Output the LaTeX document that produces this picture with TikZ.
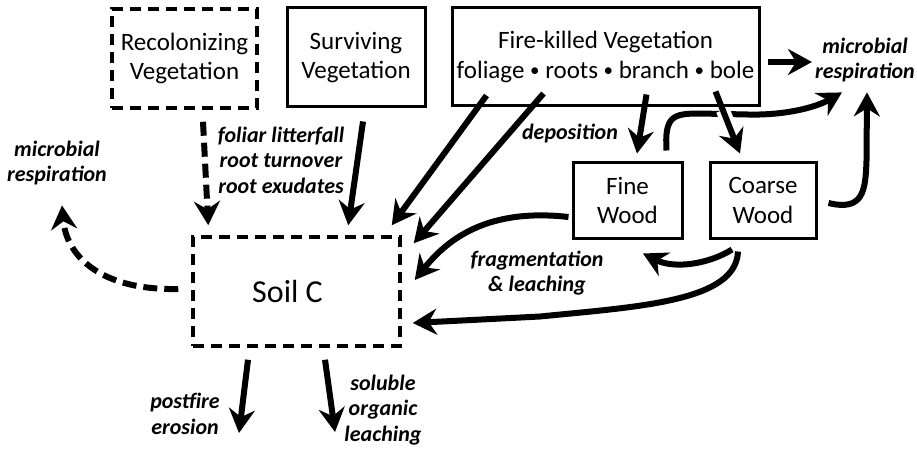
\documentclass[tikz,border=0pt]{standalone}
\usepackage{fontspec}
\setmainfont{Carlito}
\usetikzlibrary{arrows.meta,calc}
\newcommand\smallbul{\raisebox{1.5pt}{\fontsize{19}{19}\selectfont •}}
\begin{document}
\begin{tikzpicture}[x=1pt,y=-1pt,
  box/.style={draw, line width=3pt, inner sep=0pt, align=center, font=\fontsize{25}{29.5}\selectfont},
  dbox/.style={box, dash pattern=on 11pt off 7pt, line width=3.5pt},
  lbl/.style={inner sep=0pt, align=center, font=\fontsize{22}{25.5}\selectfont\bfseries\itshape},
  flow/.style={line width=6pt, -{Stealth[length=24pt,width=26pt,inset=8pt]}},
  dflow/.style={flow, dash pattern=on 14pt off 7pt},
]
\useasboundingbox[fill=white] (0,0) rectangle (917,449);
% boxes
\node[dbox, minimum width=145pt, minimum height=99pt] (rec) at (184.5,58.5) {Recolonizing\\Vegetation};
\node[box, minimum width=138pt, minimum height=99pt] (surv) at (356,57.5) {Surviving\\Vegetation};
\node[box, minimum width=307pt, minimum height=98pt] (fire) at (605.5,57) {Fire-killed Vegetation\\foliage \smallbul{} roots \smallbul{} branch \smallbul{} bole};
\node[box, minimum width=109pt, minimum height=75pt] (fine) at (627.5,200.5) {Fine\\Wood};
\node[box, minimum width=106pt, minimum height=75pt] (coarse) at (763,200.5) {Coarse\\Wood};
\node[dbox, minimum width=207pt, minimum height=109pt, font=\fontsize{32}{38}\selectfont] (soil) at (296.5,291.5) {Soil C\hspace*{18pt}};
% labels
\node[lbl] (mrR) at (865,60) {microbial\\respiration};
\node[lbl] (mrL) at (57,163) {microbial\\respiration};
\node[lbl] (litter) at (281,160) {foliar litterfall\\root turnover\\root exudates};
\node[lbl] (depo) at (570,134) {deposition};
\node[lbl] (frag) at (537,273) {fragmentation\\\& leaching};
\node[lbl] (ero) at (185,414) {postfire\\erosion};
\node[lbl] (sol) at (383,410) {soluble\\organic\\leaching};
\coordinate (eroTip) at (239,433);
\coordinate (solTip) at (335,432);
% vegetation to soil
\draw[dflow] ($(rec.south)+(18.5,12)$) -- ($(soil.north west)+(17,-10)$);
\draw[flow] ($(surv.south)+(7,13)$) -- ($(soil.north west)+(157,-10)$);
\draw[flow] ($(fire.south west)+(36,-12)$) -- ($(soil.north east)+(-10,-10)$);
\draw[flow] ($(fire.south west)+(93,-14)$) -- ($(soil.north east)+(12,8)$);
% fire-killed to wood
\draw[flow] ($(fire.south west)+(196,-13)$) -- ($(fine.north)+(9.5,-8)$);
% fine wood to respiration
\draw[flow] ($(fine.north)+(39,-11)$) .. controls ($(fine.north)+(37,-45)$) and ($(fine.north)+(45,-48)$) .. ($(fine.north)+(72,-48)$)
  -- ($(fine.north)+(120,-47)$) .. controls ($(fine.north)+(160,-46)$) and ($(fine.north)+(190,-55)$) .. ($(mrR.south)+(-23,10)$);
\coordinate (b1) at ($(fire.south west)+(265,-16)$);
\coordinate (b2) at ($(coarse.north)+(-23,-8)$);
\draw[white, line width=14pt] ($(b1)!0.3!(b2)$) -- ($(b1)!0.56!(b2)$);
\draw[flow] (b1) -- (b2);
% coarse wood to respiration
\draw[flow] ($(coarse.east)+(11,2.5)$) .. controls ($(coarse.east)+(46,11)$) and ($(coarse.east)+(48,-10)$) .. ($(coarse.east)+(49,-40)$) -- ($(mrR.south)+(2,10)$);
% fire-killed to respiration
\draw[flow] ($(fire.east)+(7,5)$) -- ($(mrR.west)+(-3,2)$);
% fine wood to soil
\draw[flow] ($(fine.west)+(-3,16.5)$) .. controls ($(fine.west)+(-83,7.5)$) and ($(fine.west)+(-123,37.5)$) .. ($(soil.east)+(13,-11.5)$);
% coarse wood to fine wood
\draw[flow] ($(coarse.south)+(-31,10)$) .. controls ($(coarse.south)+(-53,24)$) and ($(coarse.south)+(-88,30)$) .. ($(fine.south)+(15.5,14)$);
% coarse wood to soil
\draw[flow] ($(coarse.south)+(-25,12)$) .. controls ($(coarse.south)+(-27,62)$) and ($(coarse.south)+(-123,67)$) .. ($(coarse.south)+(-223,77)$) -- ($(soil.east)+(11,31.5)$);
% soil to respiration
\draw[dflow] ($(soil.west)+(-13,-2.5)$) .. controls ($(soil.west)+(-93,-1)$) and ($(soil.west)+(-125,-37)$) .. ($(mrL.south)+(5,20)$);
% soil losses
\draw[flow] ($(soil.south)+(-48.5,12)$) -- (eroTip);
\draw[flow] ($(soil.south)+(28.5,12)$) -- (solTip);
\end{tikzpicture}
\end{document}
